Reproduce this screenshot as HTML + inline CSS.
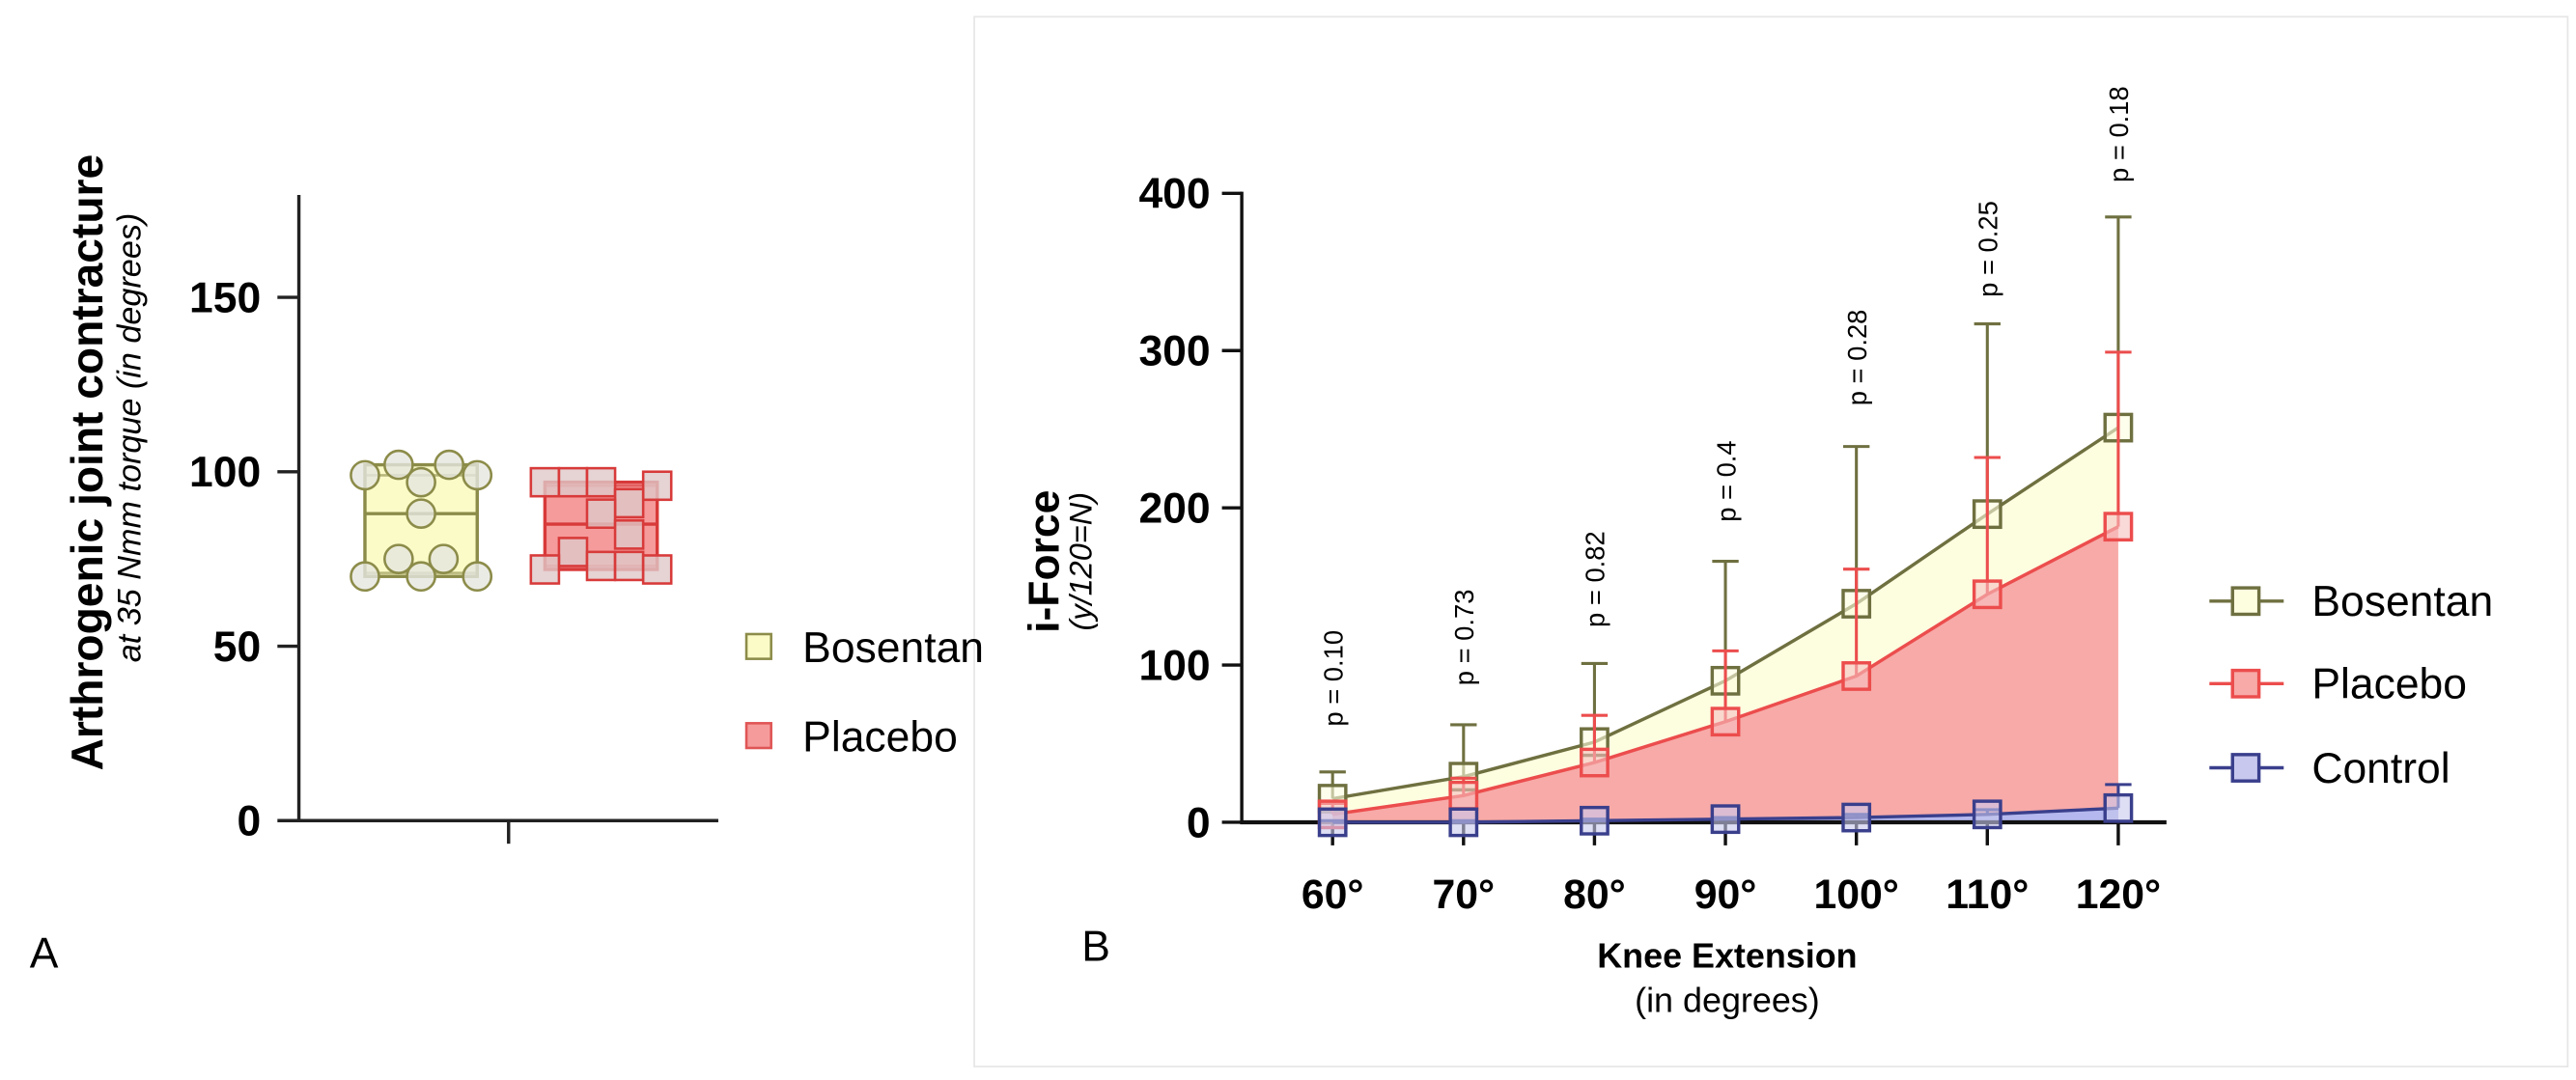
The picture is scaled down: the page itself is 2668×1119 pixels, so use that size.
<!DOCTYPE html>
<html><head><meta charset="utf-8"><style>
html,body{margin:0;padding:0;background:#fff;}
svg{display:block;font-family:"Liberation Sans",Arial,sans-serif;}
</style></head><body>
<svg id="fig" width="2668" height="1119" viewBox="0 0 1560 654" xmlns="http://www.w3.org/2000/svg">
<rect x="0" y="0" width="1560" height="654" fill="#fff"/>
<rect x="590" y="10" width="965" height="636" fill="none" stroke="#e6e6e6" stroke-width="1"/>
<g id="pa"></g>
<g id="pb"></g>
</svg>
<script>
// ---- Panel A data ----
const aTicks = [0, 50, 100, 150];
const bosPoints = [99, 102, 102, 99, 97, 88, 75, 75, 70, 70, 70];
const bosBox = {min: 70, q1: 71, med: 88, q3: 99, max: 102};
const plaPoints = [97, 97, 97, 96, 91, 88, 82, 77, 73, 73, 72, 72];
const plaBox = {min: 72, q1: 73, med: 85, q3: 96, max: 97};
// horizontal jitter (fraction of box width) – layout only
const bosJit = [0, 0.3, 0.75, 1, 0.5, 0.5, 0.3, 0.7, 0, 0.5, 1];
const plaJit = [0, 0.25, 0.5, 1, 0.75, 0.5, 0.75, 0.25, 0.5, 0.75, 0, 1];

// ---- Panel B data ----
const categories = ["60°", "70°", "80°", "90°", "100°", "110°", "120°"];
const bTicks = [0, 100, 200, 300, 400];
const bosentan = [15, 29, 51, 90, 139, 196, 251];
const bosentanErr = [32, 62, 101, 166, 239, 317, 385];
const placebo = [5, 17, 38, 64, 93, 145, 188];
const placeboErr = [12, 28, 68, 109, 161, 232, 299];
const control = [0, 0, 1, 2, 3, 5, 9];
const controlErr = [1, 1, 2, 3, 5, 8, 24];
const pLabels = ["p = 0.10", "p = 0.73", "p = 0.82", "p = 0.4", "p = 0.28", "p = 0.25", "p = 0.18"];
const pLabelY = [61, 87, 124, 191, 265, 334, 407];

const NS = "http://www.w3.org/2000/svg";
function mk(parent, tag, attrs, text) {
  const e = document.createElementNS(NS, tag);
  for (const k in attrs) e.setAttribute(k, attrs[k]);
  if (text !== undefined) e.textContent = text;
  parent.appendChild(e);
  return e;
}

// ===== Panel A =====
const pa = document.getElementById('pa');
const ayA = v => 497 - v * (497 - 180) / 150;
let el;
el = mk(pa, 'line', {x1: 181, y1: 118, x2: 181, y2: 498, stroke: '#222', 'stroke-width': 2});
 
el = mk(pa, 'line', {x1: 180, y1: 497, x2: 435, y2: 497, stroke: '#222', 'stroke-width': 2});
 
mk(pa, 'line', {x1: 308, y1: 497, x2: 308, y2: 511, stroke: '#222', 'stroke-width': 2});
aTicks.forEach(t => {
  mk(pa, 'line', {x1: 168, y1: ayA(t), x2: 181, y2: ayA(t), stroke: '#222', 'stroke-width': 2});
  el = mk(pa, 'text', {x: 158, y: ayA(t) + 9, 'text-anchor': 'end', 'font-size': 26, 'font-weight': 'bold'}, String(t));
   
});
el = mk(pa, 'text', {transform: 'translate(62,280) rotate(-90)', 'text-anchor': 'middle', 'font-size': 27, 'font-weight': 'bold'}, 'Arthrogenic joint contracture');
 
el = mk(pa, 'text', {transform: 'translate(85,265) rotate(-90)', 'text-anchor': 'middle', 'font-size': 20, 'font-style': 'italic'}, 'at 35 Nmm torque (in degrees)');
 

function drawBox(box, pts, jit, x0, x1, fill, stroke, shape, name) {
  const g = mk(pa, 'g', {});
   
  mk(g, 'rect', {x: x0, y: ayA(box.max), width: x1 - x0, height: ayA(box.min) - ayA(box.max), fill: fill, stroke: stroke, 'stroke-width': 2});
  mk(g, 'line', {x1: x0, y1: ayA(box.med), x2: x1, y2: ayA(box.med), stroke: stroke, 'stroke-width': 2});
  mk(g, 'line', {x1: x0, y1: ayA(box.q3), x2: x1, y2: ayA(box.q3), stroke: stroke, 'stroke-width': 1.5, opacity: 0.6});
  mk(g, 'line', {x1: x0, y1: ayA(box.q1), x2: x1, y2: ayA(box.q1), stroke: stroke, 'stroke-width': 1.5, opacity: 0.6});
  const w = x1 - x0;
  pts.forEach((v, i) => {
    const cx = x0 + jit[i] * w;
    const y = ayA(v);
    if (shape === 'circle') {
      el = mk(g, 'circle', {cx: cx, cy: y, r: 8.5, fill: '#e6e6e0', 'fill-opacity': 0.8, stroke: stroke, 'stroke-width': 1.5});
    } else {
      el = mk(g, 'rect', {x: cx - 8.5, y: y - 8.5, width: 17, height: 17, fill: '#e0c8c8', 'fill-opacity': 0.8, stroke: stroke, 'stroke-width': 1.5});
    }
     
  });
}
drawBox(bosBox, bosPoints, bosJit, 221, 289, '#fbfbc8', '#8c8c4a', 'circle', 'a-box-bosentan');
drawBox(plaBox, plaPoints, plaJit, 330, 398, '#f69b9b', '#d83a3a', 'square', 'a-box-placebo');

[['Bosentan', '#fbfbc8', '#8c8c4a', 398], ['Placebo', '#f69b9b', '#e05555', 452]].forEach(([n, f, s, y]) => {
  const g = mk(pa, 'g', {});
   
  mk(g, 'rect', {x: 452, y: y - 14, width: 15, height: 15, fill: f, stroke: s, 'stroke-width': 1.5});
  mk(g, 'text', {x: 486, y: y + 3, 'font-size': 26}, n);
});
el = mk(pa, 'text', {x: 18, y: 586, 'font-size': 26}, 'A');
 

// ===== Panel B =====
const pb = document.getElementById('pb');
const ay = v => 498 - v * (498 - 117) / 400;
const ax = i => 807 + i * 79.3;

function areaPath(vals) {
  let d = 'M' + ax(0) + ',' + ay(0);
  vals.forEach((v, i) => d += ' L' + ax(i) + ',' + ay(v));
  d += ' L' + ax(vals.length - 1) + ',' + ay(0) + ' Z';
  return d;
}
el = mk(pb, 'path', {d: areaPath(bosentan), fill: '#fdfde0'});
 
el = mk(pb, 'path', {d: areaPath(placebo), fill: '#f7aaa8'});
 
el = mk(pb, 'path', {d: areaPath(control), fill: '#b4b8ee'});
 

el = mk(pb, 'line', {x1: 752, y1: 116, x2: 752, y2: 499, stroke: '#111', 'stroke-width': 2});
 
el = mk(pb, 'line', {x1: 751, y1: 498, x2: 1312, y2: 498, stroke: '#111', 'stroke-width': 2.5});
 
bTicks.forEach(t => {
  mk(pb, 'line', {x1: 740, y1: ay(t), x2: 752, y2: ay(t), stroke: '#111', 'stroke-width': 2});
  el = mk(pb, 'text', {x: 733, y: ay(t) + 9, 'text-anchor': 'end', 'font-size': 26, 'font-weight': 'bold'}, String(t));
   
});
categories.forEach((c, i) => {
  mk(pb, 'line', {x1: ax(i), y1: 498, x2: ax(i), y2: 512, stroke: '#111', 'stroke-width': 2});
  el = mk(pb, 'text', {x: ax(i), y: 550, 'text-anchor': 'middle', 'font-size': 25, 'font-weight': 'bold'}, c);
   
});
el = mk(pb, 'text', {transform: 'translate(641,340) rotate(-90)', 'text-anchor': 'middle', 'font-size': 26, 'font-weight': 'bold'}, 'i-Force');
 
el = mk(pb, 'text', {transform: 'translate(661,340) rotate(-90)', 'text-anchor': 'middle', 'font-size': 19, 'font-style': 'italic'}, '(y/120=N)');
 
el = mk(pb, 'text', {x: 1046, y: 586, 'text-anchor': 'middle', 'font-size': 21, 'font-weight': 'bold'}, 'Knee Extension');
 
el = mk(pb, 'text', {x: 1046, y: 613, 'text-anchor': 'middle', 'font-size': 21}, '(in degrees)');
 
el = mk(pb, 'text', {x: 655, y: 582, 'font-size': 26}, 'B');
 

function series(vals, errs, color, mfill, name) {
  const g = mk(pb, 'g', {});
   
  vals.forEach((v, i) => {
    mk(g, 'line', {x1: ax(i), y1: ay(v), x2: ax(i), y2: ay(errs[i]), stroke: color, 'stroke-width': 1.8});
    mk(g, 'line', {x1: ax(i) - 8, y1: ay(errs[i]), x2: ax(i) + 8, y2: ay(errs[i]), stroke: color, 'stroke-width': 1.8});
  });
  const d = vals.map((v, i) => (i ? 'L' : 'M') + ax(i) + ',' + ay(v)).join(' ');
  el = mk(g, 'path', {d: d, fill: 'none', stroke: color, 'stroke-width': 2});
   
  vals.forEach((v, i) => {
    el = mk(g, 'rect', {x: ax(i) - 8, y: ay(v) - 8, width: 16, height: 16, fill: mfill, 'fill-opacity': 0.6, stroke: color, 'stroke-width': 2});
     
  });
}
series(bosentan, bosentanErr, '#6f7040', '#fdfde0', 'bosentan');
series(placebo, placeboErr, '#ec4d4d', '#f7c0c0', 'placebo');
series(control, controlErr, '#3a3f8c', '#c8c8ee', 'control');

pLabels.forEach((p, i) => {
  const y = ay(pLabelY[i]);
  el = mk(pb, 'text', {transform: 'translate(' + (ax(i) + 6) + ',' + y + ') rotate(-90)', 'font-size': 16}, p);
   
});

[['Bosentan', '#fdfde0', '#6f7040', 364], ['Placebo', '#f7aaa8', '#ec4d4d', 414], ['Control', '#c8c8ee', '#3a3f8c', 465]].forEach(([n, f, s, y]) => {
  const g = mk(pb, 'g', {});
   
  mk(g, 'line', {x1: 1338, y1: y, x2: 1383, y2: y, stroke: s, 'stroke-width': 2});
  mk(g, 'rect', {x: 1352, y: y - 8, width: 16, height: 16, fill: f, stroke: s, 'stroke-width': 2});
  mk(g, 'text', {x: 1400, y: y + 9, 'font-size': 26}, n);
});
</script>
</body></html>
